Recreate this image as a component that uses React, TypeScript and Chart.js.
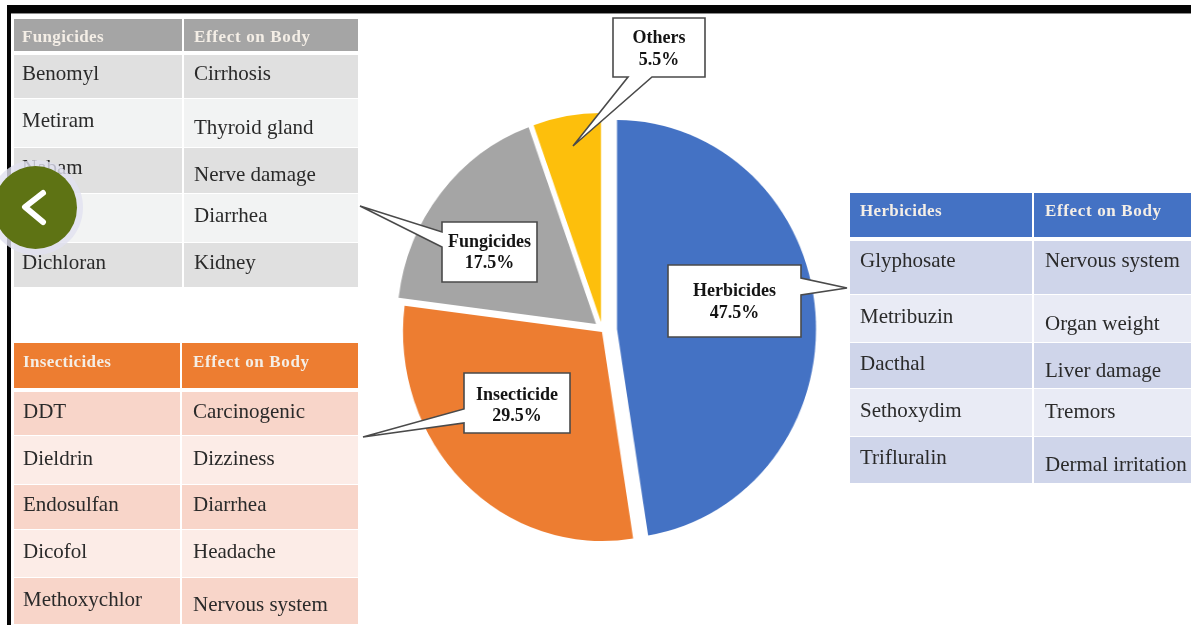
import React, { useEffect, useRef } from "react";
import { Chart, registerables } from "chart.js";

Chart.register(...registerables);

const categories = ["Herbicides", "Insecticide", "Fungicides", "Others"];
const shares = [47.5, 29.5, 17.5, 5.5];
const sliceColors = ["#4472c4", "#ed7d31", "#a5a5a5", "#fdbf0c"];
const sliceShift = [[11, 1], [-4, 4], [-10, -4], [-5, -6]];

const effectHeader = "Effect on Body";
const fungicides = ["Benomyl", "Metiram", "Nabam", "", "Dichloran"];
const fungicideEffects = ["Cirrhosis", "Thyroid gland", "Nerve damage", "Diarrhea", "Kidney"];
const insecticides = ["DDT", "Dieldrin", "Endosulfan", "Dicofol", "Methoxychlor"];
const insecticideEffects = ["Carcinogenic", "Dizziness", "Diarrhea", "Headache", "Nervous system"];
const herbicides = ["Glyphosate", "Metribuzin", "Dacthal", "Sethoxydim", "Trifluralin"];
const herbicideEffects = ["Nervous system", "Organ weight", "Liver damage", "Tremors", "Dermal irritation"];

const SERIF = '"Liberation Serif", serif';
const SCALE_X = 199 / 209;

type TableSpec = {
  title: string; names: string[]; effects: string[];
  x0: number; x1: number; x2: number;
  headerY: [number, number]; rowEdges: number[];
  nameX: number; effectX: number; headerTextY: number;
  nameY: number[]; effectY: number[];
  head: string; odd: string; even: string;
};

const tables: TableSpec[] = [
  {
    title: "Fungicides", names: fungicides, effects: fungicideEffects,
    x0: 14, x1: 183, x2: 358, headerY: [19, 51], rowEdges: [55, 99, 148, 194, 243, 288],
    nameX: 22, effectX: 194, headerTextY: 36,
    nameY: [73, 120, 167, 215, 262], effectY: [73, 127, 174, 215, 262],
    head: "#a5a5a5", odd: "#e0e0e0", even: "#f2f3f3",
  },
  {
    title: "Insecticides", names: insecticides, effects: insecticideEffects,
    x0: 14, x1: 181, x2: 358, headerY: [343, 388], rowEdges: [392, 436, 485, 530, 578, 625],
    nameX: 23, effectX: 193, headerTextY: 361,
    nameY: [411, 458, 504, 551, 599], effectY: [411, 458, 504, 551, 604],
    head: "#ed7d31", odd: "#f8d5c9", even: "#fcece7",
  },
  {
    title: "Herbicides", names: herbicides, effects: herbicideEffects,
    x0: 850, x1: 1033, x2: 1191, headerY: [193, 237], rowEdges: [241, 295, 343, 389, 437, 484],
    nameX: 860, effectX: 1045, headerTextY: 210,
    nameY: [260, 316, 363, 410, 457], effectY: [260, 323, 370, 411, 464],
    head: "#4472c4", odd: "#cfd5ea", even: "#e9ebf5",
  },
];

type CalloutSpec = { index: number; rect: [number, number, number, number]; poly: string; lineY: [number, number] };
const callouts: CalloutSpec[] = [
  { index: 3, rect: [613, 18, 705, 77], poly: "613,18 705,18 705,77 652,77 573,146 628,77 613,77", lineY: [37, 59] },
  { index: 2, rect: [442, 222, 537, 282], poly: "442,222 537,222 537,282 442,282 442,247 360,206 442,232", lineY: [241, 262] },
  { index: 0, rect: [668, 265, 801, 337], poly: "668,265 801,265 801,278 847,288 801,295 801,337 668,337", lineY: [290, 312] },
  { index: 1, rect: [464, 373, 570, 433], poly: "464,373 570,373 570,433 464,433 464,423 363,437 464,409", lineY: [394, 415] },
];

const soft = "blur(0.45px)";

function Text({ x, y, children, color = "#2a2a2a", size = 21, bold = false, center = false, spacing = 0 }: any) {
  return (
    <div style={{
      position: "absolute", left: x, top: y, whiteSpace: "pre",
      transform: center ? "translate(-50%,-50%)" : "translateY(-50%)",
      fontFamily: SERIF, fontSize: size, fontWeight: bold ? 700 : 400, lineHeight: 1,
      color, letterSpacing: spacing, filter: soft,
    }}>{children}</div>
  );
}

function Rect({ l, t, r, b, fill }: { l: number; t: number; r: number; b: number; fill: string }) {
  return <div style={{ position: "absolute", left: l, top: t, width: r - l, height: b - t, background: fill }} />;
}

function DataTable({ s }: { s: TableSpec }) {
  return (
    <>
      <Rect l={s.x0} t={s.headerY[0]} r={s.x1 - 1} b={s.headerY[1]} fill={s.head} />
      <Rect l={s.x1 + 1} t={s.headerY[0]} r={s.x2} b={s.headerY[1]} fill={s.head} />
      <Text x={s.nameX} y={s.headerTextY} size={17} bold color="#f4eee6" spacing={0.35}>{s.title}</Text>
      <Text x={s.effectX} y={s.headerTextY} size={17} bold color="#f4eee6" spacing={0.65}>{effectHeader}</Text>
      {s.names.map((name, i) => {
        const fill = i % 2 === 0 ? s.odd : s.even;
        return (
          <React.Fragment key={i}>
            <Rect l={s.x0} t={s.rowEdges[i]} r={s.x1 - 1} b={s.rowEdges[i + 1] - 1} fill={fill} />
            <Rect l={s.x1 + 1} t={s.rowEdges[i]} r={s.x2} b={s.rowEdges[i + 1] - 1} fill={fill} />
            <Text x={s.nameX} y={s.nameY[i]}>{name}</Text>
            <Text x={s.effectX} y={s.effectY[i]}>{s.effects[i]}</Text>
          </React.Fragment>
        );
      })}
    </>
  );
}

const shiftPlugin = {
  id: "sliceShift",
  afterDatasetsUpdate(chart: any) {
    const meta = chart.getDatasetMeta(0);
    meta.data.forEach((arc: any, i: number) => {
      arc.x += sliceShift[i][0] / SCALE_X;
      arc.y += sliceShift[i][1];
    });
  },
};

export default function App() {
  const ref = useRef<HTMLCanvasElement | null>(null);
  useEffect(() => {
    const chart = new Chart(ref.current as HTMLCanvasElement, {
      type: "pie",
      data: {
        labels: categories,
        datasets: [{ data: shares, backgroundColor: sliceColors, borderWidth: 0 }],
      },
      options: {
        responsive: false,
        animation: false,
        radius: 209,
        plugins: { legend: { display: false }, tooltip: { enabled: false } },
      } as any,
      plugins: [shiftPlugin],
    });
    return () => chart.destroy();
  }, []);

  return (
    <div style={{ position: "fixed", left: 0, top: 0, width: 1191, height: 625, overflow: "hidden", background: "#fff" }}>
      <Rect l={7} t={5} r={1191} b={13} fill="#050505" />
      <Rect l={7} t={13} r={1191} b={14} fill="#8a8a8a" />
      <Rect l={7} t={5} r={11} b={625} fill="#050505" />

      <canvas ref={ref} width={460} height={460} style={{
        position: "absolute", left: 376, top: 98, width: 460, height: 460,
        transform: `scaleX(${SCALE_X})`, transformOrigin: "center",
      }} />

      {tables.map((t) => <DataTable key={t.title} s={t} />)}

      <svg width={1191} height={625} style={{ position: "absolute", left: 0, top: 0 }}>
        {callouts.map((c) => (
          <polygon key={c.index} points={c.poly} fill="#fff" stroke="#4a4a4a" strokeWidth={1.6} strokeLinejoin="miter" />
        ))}
      </svg>
      {callouts.map((c) => {
        const cx = (c.rect[0] + c.rect[2]) / 2;
        return (
          <React.Fragment key={c.index}>
            <Text x={cx} y={c.lineY[0]} size={18} bold center color="#141414">{categories[c.index]}</Text>
            <Text x={cx} y={c.lineY[1]} size={18} bold center color="#141414">{`${shares[c.index]}%`}</Text>
          </React.Fragment>
        );
      })}

      <div style={{ position: "absolute", left: -12, top: 160, width: 95, height: 95, borderRadius: "50%", background: "rgba(225,225,240,0.8)" }} />
      <div style={{ position: "absolute", left: -6, top: 166, width: 83, height: 83, borderRadius: "50%", background: "#5e7314" }} />
      <svg width={90} height={90} style={{ position: "absolute", left: 0, top: 165 }}>
        <polyline points="43,28 25,42 43,57" fill="none" stroke="#fff" strokeWidth={6} strokeLinecap="round" strokeLinejoin="round" />
      </svg>
    </div>
  );
}
